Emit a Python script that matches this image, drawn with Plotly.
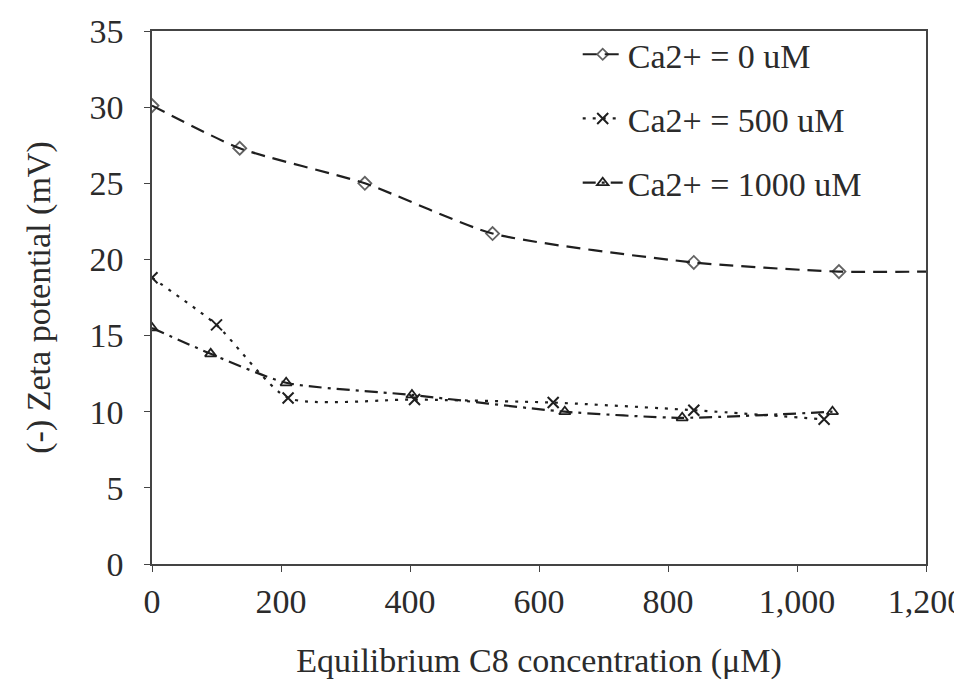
import plotly.graph_objects as go

# Data
x_ca0 = [0, 136, 330, 528, 840, 1065, 1200]
y_ca0 = [30.1, 27.3, 25.0, 21.7, 19.8, 19.2, 19.2]
size_ca0 = [10, 10, 10, 10, 10, 10, 0]

x_ca500 = [0, 100, 211, 407, 622, 840, 1042]
y_ca500 = [18.8, 15.7, 10.9, 10.8, 10.6, 10.1, 9.5]

x_ca1000 = [0, 91, 208, 403, 640, 822, 1055]
y_ca1000 = [15.5, 13.8, 11.9, 11.1, 10.0, 9.6, 10.0]

names = ["Ca2+ = 0 uM", "Ca2+ = 500 uM", "Ca2+ = 1000 uM"]
x_ticks = [0, 200, 400, 600, 800, 1000, 1200]
y_ticks = [0, 5, 10, 15, 20, 25, 30, 35]

ink = "#1f1f1f"
text_col = "#2b2b2b"
font_family = "Liberation Serif, Times New Roman, serif"

fig = go.Figure()
fig.add_trace(go.Scatter(
    x=x_ca0, y=y_ca0, name=names[0], mode="lines+markers", legendgroup="a",
    line=dict(color=ink, width=2.2, dash="14px,8px", shape="spline", smoothing=0.6),
    marker=dict(symbol="diamond-open", size=size_ca0, color=ink, line=dict(width=1.8, color=ink)),
))
fig.add_trace(go.Scatter(
    x=x_ca500, y=y_ca500, name=names[1], mode="lines+markers", legendgroup="b",
    line=dict(color=ink, width=2.2, dash="3px,7px", shape="spline", smoothing=0.6),
    marker=dict(symbol="x-thin-open", size=11, color=ink, line=dict(width=2, color=ink)),
))
fig.add_trace(go.Scatter(
    x=x_ca1000, y=y_ca1000, name=names[2], mode="lines+markers", legendgroup="c",
    line=dict(color=ink, width=2.2, dash="13px,6px,3px,6px", shape="spline", smoothing=0.6),
    marker=dict(symbol="triangle-up-open", size=10, color=ink, line=dict(width=1.8, color=ink)),
))

fig.update_layout(
    width=962, height=690,
    margin=dict(l=144, r=44, t=23, b=134, autoexpand=False),
    paper_bgcolor="white", plot_bgcolor="white",
    font=dict(family=font_family, size=34, color=text_col),
    showlegend=True,
    legend=dict(
        x=0.55, y=1.01, xanchor="left", yanchor="top",
        bgcolor="rgba(255,255,255,0)", borderwidth=0,
        font=dict(size=34, color=text_col),
        tracegroupgap=17, itemwidth=40,
    ),
    xaxis=dict(
        range=[0, 1200], tickvals=x_ticks, tickformat=",d",
        showgrid=False, zeroline=False, automargin=False,
        showline=True, linecolor="#444444", linewidth=1.5, mirror=True,
        ticks="outside", ticklen=6, tickcolor="#444444",
        tickfont=dict(size=34),
        title=dict(text="Equilibrium C8 concentration (μM)", standoff=30, font=dict(size=34)),
    ),
    yaxis=dict(
        range=[0, 35], tickvals=y_ticks,
        showgrid=False, zeroline=False, automargin=False,
        showline=True, linecolor="#444444", linewidth=1.5, mirror=True,
        ticks="outside", ticklen=6, tickcolor="#444444",
        tickfont=dict(size=34), ticklabelstandoff=14,
        title=dict(text="(-) Zeta potential (mV)", standoff=29, font=dict(size=34)),
    ),
)

fig.write_html("out.html")
